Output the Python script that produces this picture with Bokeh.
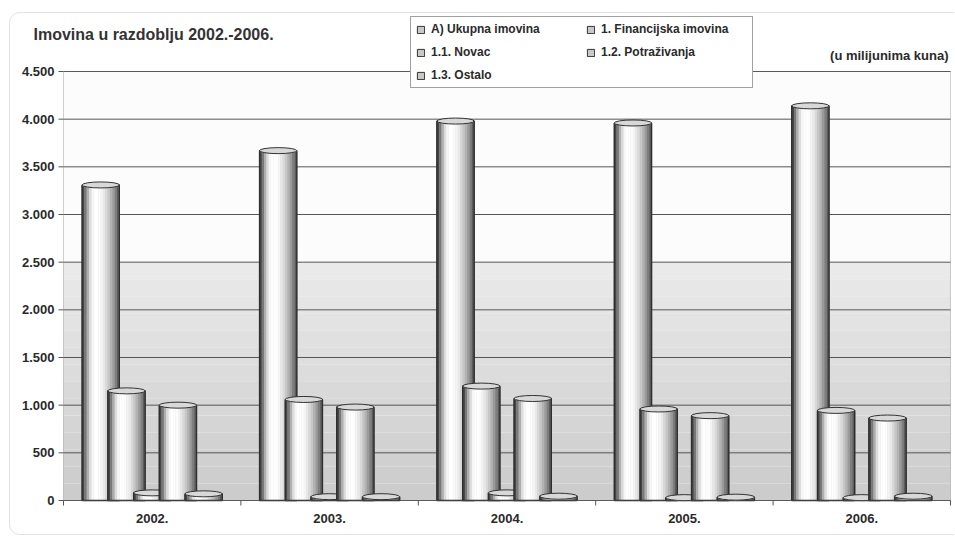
from bokeh.plotting import figure
from bokeh.models import (Range1d, Legend, LegendItem, Label, BoxAnnotation,
                          ColumnDataSource)
from bokeh.core.properties import value
from bokeh.transform import dodge
from bokeh.embed import file_html
from bokeh.resources import INLINE

# ---------------- data ----------------
years = ["2002.", "2003.", "2004.", "2005.", "2006."]
ukupna = [3310, 3670, 3980, 3960, 4140]
financijska = [1150, 1060, 1200, 960, 945]
novac = [80, 40, 80, 30, 30]
potrazivanja = [1000, 980, 1070, 890, 865]
ostalo = [70, 40, 45, 35, 45]
series_names = ["A) Ukupna imovina", "1. Financijska imovina", "1.1. Novac",
                "1.2. Potraživanja", "1.3. Ostalo"]
y_ticks = [0, 500, 1000, 1500, 2000, 2500, 3000, 3500, 4000, 4500]
y_tick_labels = ["0", "500", "1.000", "1.500", "2.000", "2.500", "3.000",
                 "3.500", "4.000", "4.500"]

# ---------------- layout constants (pixels inside the figure) ----------------
FONT = "Liberation Sans"
W, H = 954, 535
PLOT_LEFT, PLOT_RIGHT = 63, 950
PLOT_TOP, PLOT_BOTTOM = 71, 500
YMAX = 4500
ncat = len(years)
cpx = (PLOT_RIGHT - PLOT_LEFT) / ncat          # pixels per category
ppu = (PLOT_BOTTOM - PLOT_TOP) / YMAX          # pixels per value unit
x_start, x_end = -PLOT_LEFT / cpx, (W - PLOT_LEFT) / cpx
y_start, y_end = -(H - PLOT_BOTTOM) / ppu, PLOT_BOTTOM / ppu

p = figure(width=W, height=H, x_range=Range1d(x_start, x_end),
           y_range=Range1d(y_start, y_end), x_axis_type=None, y_axis_type=None,
           output_backend="svg", toolbar_location=None, min_border=0)
p.outline_line_color = None
p.background_fill_color = "white"
p.border_fill_color = "white"

# outer rounded frame
p.add_layout(BoxAnnotation(left=x_start + 9 / cpx, right=x_end + 1,
                           bottom=y_start + 1 / ppu, top=y_end - 12 / ppu,
                           border_radius=10, fill_color=None,
                           line_color="#9a9a9a", line_width=1, level="image"))

# plot-area background
p.add_layout(BoxAnnotation(left=0, right=ncat, bottom=0, top=YMAX,
                           fill_color="#fcfcfc", fill_alpha=1, line_alpha=0,
                           level="image"))
n_bands = 14
for i in range(n_bands):
    b0 = 2500 * i / n_bands
    b1 = 2500 * (i + 1) / n_bands
    t = i / (n_bands - 1)
    g = int(204 + (234 - 204) * t)
    p.add_layout(BoxAnnotation(left=0, right=ncat, bottom=b0, top=b1,
                               fill_color=(g, g, g), fill_alpha=1, line_alpha=0,
                               level="image"))

# grid lines
p.segment(x0=0, x1=ncat, y0=y_ticks, y1=y_ticks, line_color="#555555", line_width=1)
# y ticks + labels
p.segment(x0=-5 / cpx, x1=0, y0=y_ticks, y1=y_ticks, line_color="#555555", line_width=1)
p.text(x=0, y=y_ticks, text=y_tick_labels, x_offset=-9, text_align="right",
       text_baseline="middle", text_font=value(FONT), text_font_style="bold",
       text_font_size="13px", text_color="#2a2a2a")

# ---------------- cylinders ----------------
xc = [i + 0.5 for i in range(ncat)]
source = ColumnDataSource(dict(xc=xc, ukupna=ukupna, financijska=financijska,
                               novac=novac, potrazivanja=potrazivanja, ostalo=ostalo))
cols = ["ukupna", "financijska", "novac", "potrazivanja", "ostalo"]
offsets = [-0.29, -0.145, 0.0, 0.145, 0.29]
bar_w = 0.21
shades = [70, 120, 175, 220, 246, 255, 255, 252, 244, 232, 216, 198, 178, 154, 126, 92]
ns = len(shades)
strip_w = bar_w / ns

legend_items = []
for col, off, name in zip(cols, offsets, series_names):
    base = p.vbar(x=dodge("xc", off), top=col, width=bar_w, source=source,
                  fill_color="#c8c8c8", line_color="#333333", line_width=1)
    for j, s in enumerate(shades):
        so = off - bar_w / 2 + (j + 0.5) * strip_w
        p.vbar(x=dodge("xc", so), top=col, width=strip_w * 1.08, source=source,
               fill_color=(s, s, s), line_color=None)
    p.vbar(x=dodge("xc", off), top=col, width=bar_w, source=source,
           fill_color=None, line_color="#2e2e2e", line_width=1.3)
    p.ellipse(x=dodge("xc", off), y=col, width=bar_w, height=6,
              height_units="screen", source=source,
              fill_color="#d8d8d8", line_color="#333333", line_width=1)
    legend_items.append(LegendItem(label=name, renderers=[base]))

# plot-area border (axes lines)
p.add_layout(BoxAnnotation(left=0, right=ncat, bottom=0, top=YMAX,
                           fill_color=None, line_color="#666666", line_width=1))

# x boundary ticks + category labels
bounds = list(range(ncat + 1))
p.segment(x0=bounds, x1=bounds, y0=0, y1=-5 / ppu, line_color="#555555", line_width=1)
p.text(x=xc, y=0, text=years, y_offset=18, text_align="center",
       text_baseline="middle", text_font=value(FONT), text_font_style="bold",
       text_font_size="13px", text_color="#2a2a2a")

# legend
legend = Legend(items=legend_items, location=(410, H - 88), orientation="horizontal",
                ncols=2, glyph_width=9, glyph_height=9, label_height=14,
                label_width=146, label_standoff=6, spacing=9, padding=5,
                margin=0, border_line_color="#444444", border_line_width=1,
                background_fill_color="white", background_fill_alpha=1,
                label_text_font=FONT, label_text_font_style="bold",
                label_text_font_size="12px", label_text_color="#2a2a2a")
p.add_layout(legend, "center")

# texts
p.add_layout(Label(x=33, y=H - 34, x_units="screen", y_units="screen",
                   text="Imovina u razdoblju 2002.-2006.", text_font=FONT,
                   text_font_style="bold", text_font_size="16px",
                   text_color="#333333", text_baseline="middle"))
p.add_layout(Label(x=948, y=H - 55, x_units="screen", y_units="screen",
                   text="(u milijunima kuna)", text_font=FONT,
                   text_font_style="bold", text_font_size="13px",
                   text_color="#2a2a2a", text_baseline="middle", text_align="right"))

open("out.html", "w").write(file_html(p, INLINE))
